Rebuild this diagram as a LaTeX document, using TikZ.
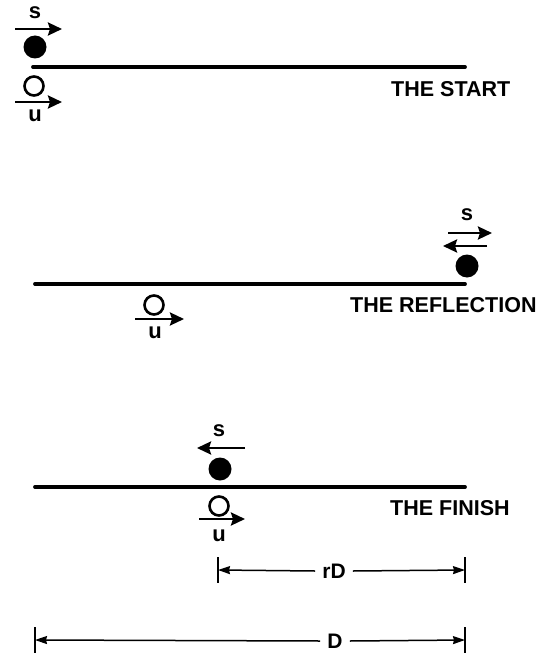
\documentclass[tikz,border=0pt]{standalone}
\usepackage{fontspec}
\setmainfont{Liberation Sans}
\usetikzlibrary{arrows.meta}
\begin{document}
\begin{tikzpicture}[x=1pt,y=-1pt,
  ball/.style={circle,fill=black,draw=none,minimum size=23pt,inner sep=0pt},
  hole/.style={circle,draw=black,line width=2.6pt,fill=none,minimum size=19pt,inner sep=0pt},
  track/.style={line width=3.8pt,line cap=round},
  vec/.style={line width=2.6pt,-{Stealth[length=14pt,width=13pt,inset=2pt]}},
  sym/.style={font=\fontsize{22}{22}\selectfont\bfseries,inner sep=0pt},
  title/.style={font=\fontsize{21.5}{21.5}\selectfont\bfseries,inner sep=0pt,anchor=west},
  dim/.style={line width=1.5pt,-{Stealth[length=12pt,width=8pt,inset=1pt]}},
  dimbar/.style={line width=2.6pt},
  dimlab/.style={font=\fontsize{21}{21}\selectfont\bfseries,inner sep=0pt}]
\useasboundingbox (0,0) rectangle (547,655);
% ---------- THE START ----------
\coordinate (L1a) at (33,67); \coordinate (L1b) at (465,67);
\draw[track] (L1a) -- (L1b);
\node[ball] (b1) at (35,47) {};
\node[hole] (h1) at (34,86) {};
\coordinate (s1a) at (15,29); \coordinate (s1b) at (62,29);
\draw[vec] (s1a) -- (s1b);
\node[sym] (s1) at (35,13) {s};
\coordinate (u1a) at (15,102); \coordinate (u1b) at (62,102);
\draw[vec] (u1a) -- (u1b);
\node[sym] (u1) at (35,116) {u};
\node[title] (t1) at (391,89) {THE START};
% ---------- THE REFLECTION ----------
\coordinate (L2a) at (35,284); \coordinate (L2b) at (465,284);
\draw[track] (L2a) -- (L2b);
\node[ball] (b2) at (467,266) {};
\node[sym] (s2) at (467,215) {s};
\coordinate (s2a) at (448,233); \coordinate (s2b) at (492,233);
\draw[vec] (s2a) -- (s2b);
\coordinate (s2c) at (487,246); \coordinate (s2d) at (443,246);
\draw[vec] (s2c) -- (s2d);
\node[hole] (h2) at (154,305) {};
\coordinate (u2a) at (135,319); \coordinate (u2b) at (184,319);
\draw[vec] (u2a) -- (u2b);
\node[sym] (u2) at (155,333) {u};
\node[title] (t2) at (350,305) {THE REFLECTION};
% ---------- THE FINISH ----------
\coordinate (L3a) at (35,487); \coordinate (L3b) at (465,487);
\draw[track] (L3a) -- (L3b);
\node[ball] (b3) at (220,469) {};
\node[sym] (s3) at (219,431) {s};
\coordinate (s3a) at (245,448); \coordinate (s3b) at (197,448);
\draw[vec] (s3a) -- (s3b);
\node[hole] (h3) at (219,506) {};
\coordinate (u3a) at (199,519); \coordinate (u3b) at (245,519);
\draw[vec] (u3a) -- (u3b);
\node[sym] (u3) at (219,536) {u};
\node[title] (t3) at (390,508) {THE FINISH};
% ---------- rD ----------
\coordinate (rDlt) at (218,557); \coordinate (rDlb) at (218,583);
\coordinate (rDrt) at (465,557); \coordinate (rDrb) at (465,583);
\draw[dimbar] (rDlt) -- (rDlb);
\draw[dimbar] (rDrt) -- (rDrb);
\coordinate (rDl) at (218,570); \coordinate (rDr) at (465,570);
\node[dimlab,inner xsep=7pt] (rD) at (334,571) {rD};
\draw[dim] (rD.west) -- (rDl);
\draw[dim] (rD.east) -- (rDr);
% ---------- D ----------
\coordinate (Dlt) at (35,627); \coordinate (Dlb) at (35,653);
\coordinate (Drt) at (465,627); \coordinate (Drb) at (465,653);
\draw[dimbar] (Dlt) -- (Dlb);
\draw[dimbar] (Drt) -- (Drb);
\coordinate (Dl) at (35,640); \coordinate (Dr) at (465,640);
\node[dimlab,inner xsep=7pt] (D) at (335,641) {D};
\draw[dim] (D.west) -- (Dl);
\draw[dim] (D.east) -- (Dr);
\end{tikzpicture}
\end{document}
